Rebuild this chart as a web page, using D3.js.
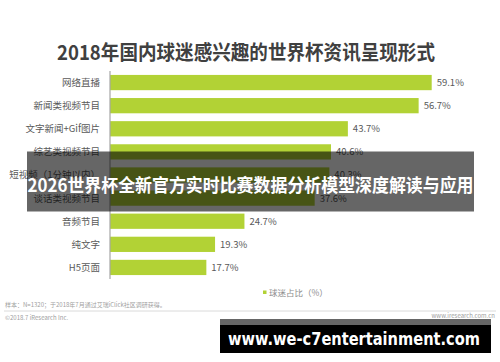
<!DOCTYPE html>
<html><head><meta charset="utf-8">
<script src="https://cdn.jsdelivr.net/npm/d3@7"></script>
<style>html,body{margin:0;padding:0;background:#fff;}svg{display:block;}</style>
</head><body>
<div id="chart"></div>
<script>
const categories = ["网络直播","新闻类视频节目","文字新闻+Gif图片","综艺类视频节目","短视频（1分钟以内）","谈话类视频节目","音频节目","纯文字","H5页面"];
const values = [59.1,56.7,43.7,40.6,40.3,37.6,24.7,19.3,17.7];
const seriesName = "球迷占比（%）";
const title = "2018年国内球迷感兴趣的世界杯资讯呈现形式";
const note = "样本：N=1320；于2018年7月通过艾瑞iClick社区调研获得。";
const copyright = "©2018.7 iResearch Inc.";
const site = "www.iresearch.com.cn";
const overlayTitle = "2026世界杯全新官方实时比赛数据分析模型深度解读与应用";
const watermark = "www.we-c7entertainment.com";

const W = 500, H = 362;
const font = "'Noto Sans CJK SC','Noto Sans',sans-serif";
const svg = d3.select("#chart").append("svg").attr("width", W).attr("height", H);

svg.append("text").attr("x", 246).attr("y", 60).attr("text-anchor","middle")
  .attr("font-family", font).attr("font-weight","bold").attr("font-size", 20.5)
  .attr("fill","#404040").attr("textLength", 378).attr("lengthAdjust","spacingAndGlyphs").text(title);

const x = d3.scaleLinear().domain([0, 59.1]).range([110, 431.7]);
const y = d3.scaleBand().domain(categories).range([71, 279]).paddingInner(0.34).paddingOuter(0.17);

svg.selectAll("rect.bar").data(values).join("rect").attr("class","bar")
  .attr("x", x(0)).attr("y", (d,i)=>y(categories[i]))
  .attr("width", d=>x(d)-x(0)).attr("height", y.bandwidth())
  .attr("fill","#b2d235");

svg.append("line").attr("x1",110).attr("x2",110).attr("y1",71).attr("y2",279)
  .attr("stroke","#a6a6a6").attr("stroke-width",1.2);

svg.selectAll("text.cat").data(categories).join("text").attr("class","cat")
  .attr("x", 100).attr("y", d=>y(d)+y.bandwidth()/2).attr("dy","0.36em")
  .attr("text-anchor","end").attr("font-family",font).attr("font-size",9.5)
  .attr("fill","#595959").text(d=>d);

svg.selectAll("text.val").data(values).join("text").attr("class","val")
  .attr("x", d=>x(d)+5).attr("y", (d,i)=>y(categories[i])+y.bandwidth()/2).attr("dy","0.36em")
  .attr("font-family",font).attr("font-size",9.5).attr("fill","#595959")
  .text(d=>d.toFixed(1)+"%");

// legend
svg.append("rect").attr("x",263).attr("y",290.5).attr("width",3.5).attr("height",3.5).attr("fill","#b2d235");
svg.append("text").attr("x",269).attr("y",293).attr("dy","0.36em").attr("font-family",font)
  .attr("font-size",8.5).attr("fill","#8c8c8c").text(seriesName);

// footer
svg.append("text").attr("x",5).attr("y",307).attr("font-family",font).attr("font-size",6)
  .attr("fill","#a0a0a0").text(note);
svg.append("line").attr("x1",4).attr("x2",496).attr("y1",311).attr("y2",311).attr("stroke","#d0d0d0").attr("stroke-width",0.8);
svg.append("text").attr("x",5).attr("y",319.5).attr("font-family",font).attr("font-size",6)
  .attr("fill","#a0a0a0").text(copyright);
svg.append("text").attr("x",495).attr("y",317.5).attr("text-anchor","end").attr("font-family",font).attr("font-size",6)
  .attr("fill","#a0a0a0").text(site);

// overlay banner
svg.append("rect").attr("x",27).attr("y",151.5).attr("width",447).attr("height",60).attr("fill","#000").attr("opacity",0.6);
svg.append("text").attr("x",250.5).attr("y",192).attr("text-anchor","middle").attr("font-family",font)
  .attr("font-weight","bold").attr("font-size",18.5).attr("fill","#fff")
  .attr("textLength",446).attr("lengthAdjust","spacingAndGlyphs").text(overlayTitle);

// watermark
svg.append("rect").attr("x",220).attr("y",319).attr("width",271).attr("height",34).attr("fill","#000").attr("opacity",0.6);
svg.append("rect").attr("x",220).attr("y",325).attr("width",271).attr("height",28).attr("fill","#000");
svg.append("text").attr("x",228).attr("y",345).attr("font-family","'DejaVu Sans',sans-serif")
  .attr("font-weight","bold").attr("font-size",18).attr("fill","#fff")
  .attr("textLength",252).attr("lengthAdjust","spacingAndGlyphs").text(watermark);
</script>
</body></html>
